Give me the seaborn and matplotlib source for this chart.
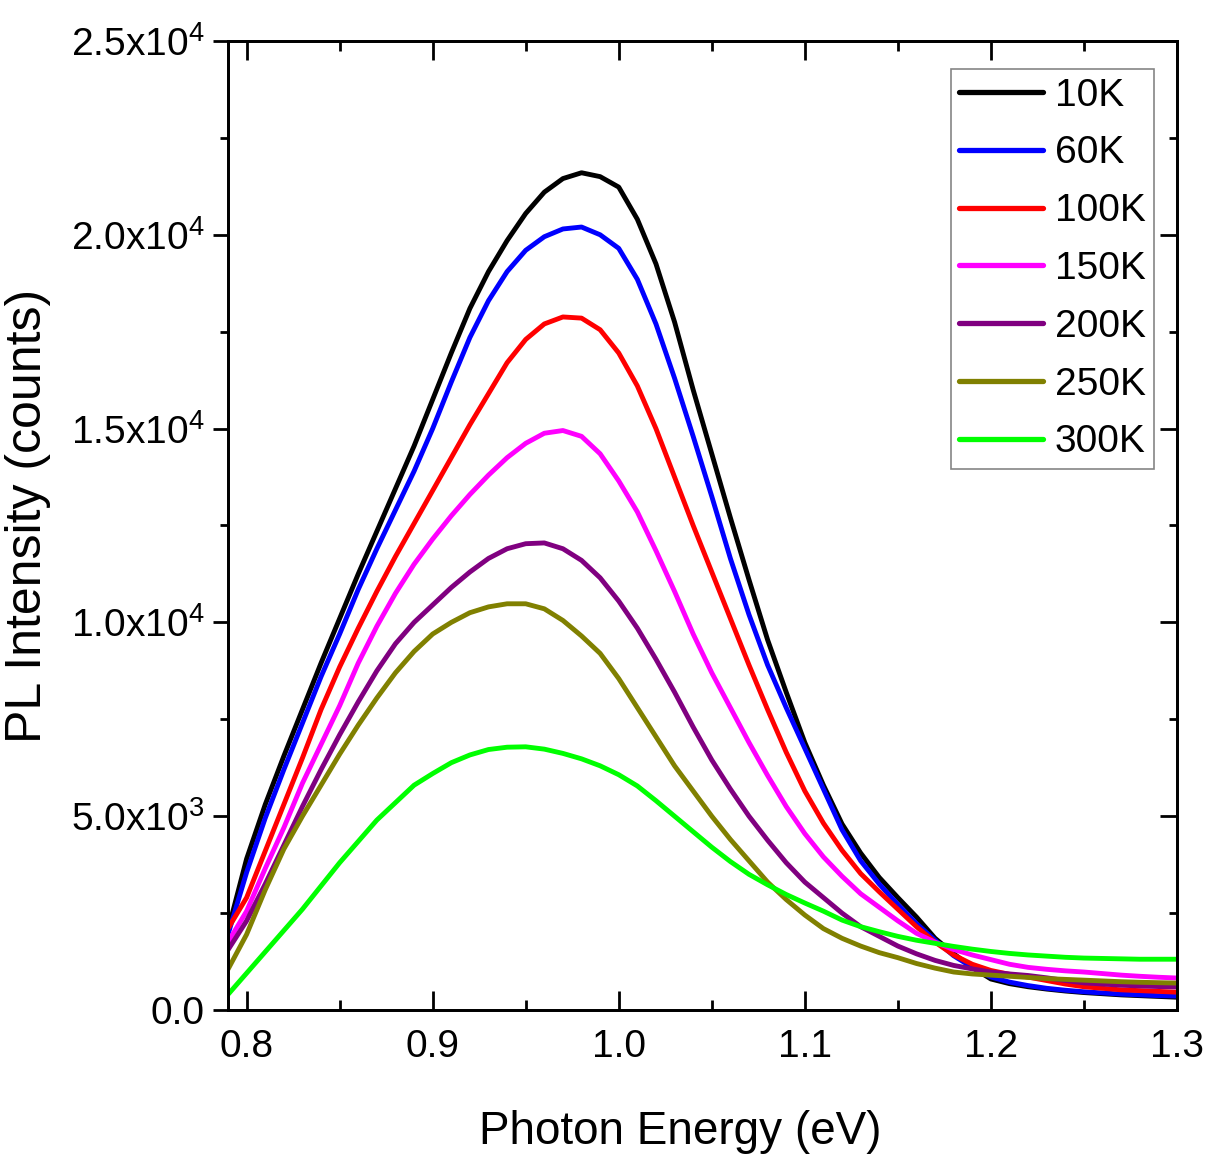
import numpy as np
import pandas as pd
import matplotlib
matplotlib.use("Agg")
import matplotlib.pyplot as plt
import seaborn as sns
from matplotlib.ticker import FixedLocator, FixedFormatter, MultipleLocator

energy = [0.79, 0.80, 0.81, 0.82, 0.83, 0.84, 0.85, 0.86, 0.87, 0.88, 0.89,
          0.90, 0.91, 0.92, 0.93, 0.94, 0.95, 0.96, 0.97, 0.98, 0.99,
          1.00, 1.01, 1.02, 1.03, 1.04, 1.05, 1.06, 1.07, 1.08, 1.09,
          1.10, 1.11, 1.12, 1.13, 1.14, 1.15, 1.16, 1.17, 1.18, 1.19,
          1.20, 1.21, 1.22, 1.23, 1.24, 1.25, 1.26, 1.27, 1.28, 1.29, 1.30]

pl_10K = [2060, 3900, 5300, 6550, 7750, 8950, 10100, 11250, 12350, 13450, 14550,
          15750, 16950, 18100, 19050, 19850, 20550, 21100, 21450, 21600, 21500,
          21230, 20400, 19250, 17750, 16000, 14350, 12700, 11100, 9550, 8200,
          6900, 5800, 4800, 4050, 3420, 2900, 2400, 1850, 1450, 1100,
          800, 680, 600, 540, 490, 450, 420, 390, 370, 350, 330]
pl_60K = [1950, 3550, 4950, 6200, 7400, 8600, 9700, 10850, 11900, 12900, 13900,
          15000, 16200, 17350, 18300, 19050, 19600, 19950, 20150, 20200, 20000,
          19650, 18850, 17700, 16300, 14800, 13250, 11650, 10200, 8900, 7800,
          6750, 5700, 4650, 3850, 3250, 2720, 2230, 1800, 1400, 1100,
          850, 720, 630, 560, 510, 470, 440, 410, 390, 370, 360]
pl_100K = [2100, 2900, 4100, 5300, 6500, 7750, 8850, 9850, 10800, 11700, 12550,
           13400, 14250, 15100, 15900, 16700, 17300, 17700, 17880, 17850, 17550,
           16950, 16100, 15000, 13750, 12500, 11300, 10100, 8900, 7750, 6650,
           5650, 4820, 4120, 3520, 3050, 2600, 2150, 1750, 1420, 1180,
           1020, 920, 850, 760, 670, 600, 560, 520, 500, 480, 460]
pl_150K = [1750, 2550, 3650, 4700, 5850, 6850, 7850, 8950, 9900, 10750, 11500,
           12150, 12750, 13300, 13800, 14250, 14620, 14880, 14950, 14800, 14350,
           13650, 12850, 11850, 10800, 9700, 8700, 7800, 6900, 6050, 5250,
           4550, 3950, 3450, 3000, 2650, 2300, 1980, 1750, 1560, 1420,
           1300, 1180, 1100, 1050, 1010, 980, 940, 900, 870, 845, 825]
pl_200K = [1550, 2300, 3250, 4250, 5250, 6200, 7100, 7950, 8750, 9450, 10000,
           10450, 10900, 11300, 11650, 11900, 12030, 12050, 11900, 11600, 11150,
           10550, 9850, 9050, 8200, 7300, 6450, 5700, 5000, 4380, 3800,
           3300, 2900, 2500, 2150, 1900, 1650, 1450, 1280, 1150, 1060,
           980, 930, 890, 830, 760, 700, 670, 640, 620, 605, 595]
pl_250K = [1050, 1950, 3100, 4150, 5000, 5800, 6600, 7350, 8050, 8700, 9250,
           9700, 10000, 10250, 10400, 10480, 10480, 10350, 10050, 9650, 9200,
           8550, 7800, 7050, 6300, 5650, 5000, 4400, 3850, 3300, 2850,
           2450, 2100, 1850, 1650, 1480, 1350, 1200, 1080, 980, 930,
           900, 870, 840, 810, 790, 770, 750, 730, 715, 705, 695]
pl_300K = [400, 950, 1500, 2050, 2600, 3200, 3800, 4350, 4900, 5350, 5800,
           6100, 6380, 6580, 6720, 6780, 6790, 6730, 6620, 6480, 6300,
           6070, 5780, 5400, 5000, 4600, 4200, 3830, 3500, 3230, 2980,
           2760, 2550, 2320, 2150, 2020, 1900, 1800, 1720, 1640, 1570,
           1510, 1460, 1420, 1390, 1360, 1340, 1330, 1320, 1310, 1310, 1310]

labels = ["10K", "60K", "100K", "150K", "200K", "250K", "300K"]
series = [pl_10K, pl_60K, pl_100K, pl_150K, pl_200K, pl_250K, pl_300K]
colors = ["#000000", "#0000FF", "#FF0000", "#FF00FF", "#800080", "#808000", "#00FF00"]

y_tick_vals = [0, 5000, 10000, 15000, 20000, 25000]
y_tick_labels = ["0.0", r"5.0x10$^{3}$", r"1.0x10$^{4}$", r"1.5x10$^{4}$",
                 r"2.0x10$^{4}$", r"2.5x10$^{4}$"]
x_tick_vals = [0.8, 0.9, 1.0, 1.1, 1.2, 1.3]
x_tick_labels = ["0.8", "0.9", "1.0", "1.1", "1.2", "1.3"]

df = pd.concat([pd.DataFrame({"energy": energy, "pl": s, "T": lab})
                for s, lab in zip(series, labels)], ignore_index=True)

sns.set_style("ticks")
plt.rcParams["font.family"] = ["Liberation Sans", "DejaVu Sans"]
plt.rcParams["mathtext.fontset"] = "custom"
plt.rcParams["mathtext.rm"] = "Liberation Sans"
plt.rcParams["mathtext.it"] = "Liberation Sans"
plt.rcParams["mathtext.bf"] = "Liberation Sans"
for key in ["text.color", "axes.labelcolor", "xtick.color", "ytick.color",
            "axes.edgecolor"]:
    plt.rcParams[key] = "black"

fig = plt.figure(figsize=(12.07, 11.64), dpi=100)
ax = fig.add_axes([0.1889, 0.1323, 0.9751 - 0.1889, 0.9648 - 0.1323])

sns.lineplot(data=df, x="energy", y="pl", hue="T", hue_order=labels,
             palette=colors, estimator=None, sort=False, linewidth=3.5, ax=ax)

ax.set_xlim(0.79, 1.3)
ax.set_ylim(0, 25000)

ax.xaxis.set_major_locator(FixedLocator(x_tick_vals))
ax.xaxis.set_major_formatter(FixedFormatter(x_tick_labels))
ax.xaxis.set_minor_locator(MultipleLocator(0.05))
ax.yaxis.set_major_locator(FixedLocator(y_tick_vals))
ax.yaxis.set_major_formatter(FixedFormatter(y_tick_labels))
ax.yaxis.set_minor_locator(MultipleLocator(2500))

for sp in ax.spines.values():
    sp.set_visible(True)
    sp.set_linewidth(2.0)
    sp.set_color("black")

ax.tick_params(axis="x", which="both", direction="in", top=True, bottom=True,
               width=2.0, colors="black", labelsize=28, pad=14)
ax.tick_params(axis="x", which="major", length=14)
ax.tick_params(axis="x", which="minor", length=7)
ax.tick_params(axis="y", which="both", direction="out", left=True, right=False,
               width=2.0, colors="black", labelsize=28, pad=6)
ax.tick_params(axis="y", which="major", length=11)
ax.tick_params(axis="y", which="minor", length=6)

ax2 = ax.twinx()
ax2.set_ylim(0, 25000)
ax2.yaxis.set_major_locator(FixedLocator(y_tick_vals))
ax2.yaxis.set_minor_locator(MultipleLocator(2500))
ax2.tick_params(axis="y", which="both", direction="in", right=True, labelright=False,
                width=2.0, colors="black")
ax2.tick_params(axis="y", which="major", length=12)
ax2.tick_params(axis="y", which="minor", length=6)
for sp in ax2.spines.values():
    sp.set_linewidth(2.0)
    sp.set_color("black")

ax.set_xlabel("Photon Energy (eV)", fontsize=33)
ax.set_ylabel("PL Intensity (counts)", fontsize=36)
ax.xaxis.set_label_coords(0.477, -0.103)
ax.yaxis.set_label_coords(-0.186, 0.51)

leg = ax.legend(loc="upper right", bbox_to_anchor=(0.976, 0.971), fontsize=28,
                frameon=True, fancybox=False, edgecolor="#666666",
                handlelength=2.15, handletextpad=0.3, labelspacing=0.56,
                borderpad=0.22, borderaxespad=0.0)
leg.get_frame().set_linewidth(1.2)
for line in leg.get_lines():
    line.set_linewidth(3.8)

fig.savefig("out.png", dpi=100)
